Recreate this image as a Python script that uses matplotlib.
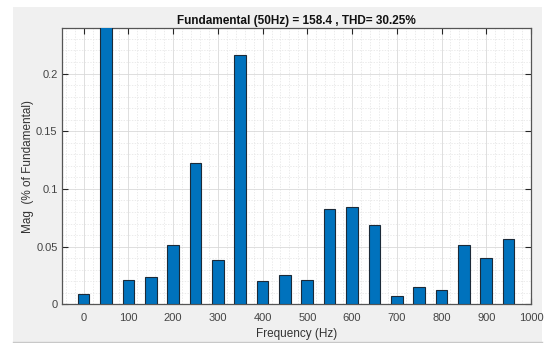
import matplotlib
matplotlib.use("Agg")
import matplotlib.pyplot as plt
from matplotlib.patches import Rectangle
from matplotlib.ticker import MultipleLocator

# Harmonic spectrum (magnitude relative to the 50 Hz fundamental)
freqs = [0, 50, 100, 150, 200, 250, 300, 350, 400, 450,
         500, 550, 600, 650, 700, 750, 800, 850, 900, 950]
mags = [0.0093, 1.0, 0.0214, 0.0237, 0.0512, 0.1224, 0.0382, 0.2157, 0.0199, 0.0254,
        0.0208, 0.0828, 0.0846, 0.0683, 0.0069, 0.0150, 0.0121, 0.0512, 0.0399, 0.0566]
x_ticks = [0, 100, 200, 300, 400, 500, 600, 700, 800, 900, 1000]
y_ticks = [0, 0.05, 0.1, 0.15, 0.2]
y_tick_labels = ["0", "0.05", "0.1", "0.15", "0.2"]
title = "Fundamental (50Hz) = 158.4 , THD= 30.25%"

plt.rcParams['font.family'] = ['Liberation Sans', 'DejaVu Sans']

W, H = 546, 343
fig = plt.figure(figsize=(W / 100, H / 100), dpi=100)
fig.patch.set_facecolor('white')

# grey figure panel
fig.patches.append(Rectangle((13 / W, 0), (542 - 13) / W, 1 - 7 / H,
                             transform=fig.transFigure, facecolor='#f0f0f0',
                             edgecolor='none', zorder=-10))
fig.lines.append(plt.Line2D([13 / W, 542 / W], [1.5 / H, 1.5 / H],
                            transform=fig.transFigure, color='#c8c8c8', lw=1))

ax = fig.add_axes([61.7 / W, 1 - 304.3 / H, (531 - 61.7) / W, (304.3 - 28.3) / H])
ax.set_facecolor('white')

ax.bar(freqs, mags, width=26, color='#0072BD', edgecolor='#1c2a38', linewidth=0.8, zorder=3)

ax.set_xlim(-49, 1000)
ax.set_ylim(0, 0.2392)
ax.set_xticks(x_ticks)
ax.set_xticklabels([str(t) for t in x_ticks])
ax.set_yticks(y_ticks)
ax.set_yticklabels(y_tick_labels)
ax.xaxis.set_minor_locator(MultipleLocator(20))
ax.yaxis.set_minor_locator(MultipleLocator(0.01))

ax.grid(which='major', color='#d9d9d9', linewidth=0.6, linestyle='-', zorder=0)
ax.grid(which='minor', color='#e3e3e3', linewidth=0.5, linestyle=(0, (2, 2)), zorder=0)
ax.set_axisbelow(True)

ax.tick_params(which='major', direction='in', length=4, width=0.8, color='#262626',
               top=True, right=True, labelsize=8, labelcolor='#444444', pad=6)
ax.tick_params(which='minor', length=0, top=True, right=True)
ax.tick_params(axis='y', pad=3)
for s in ax.spines.values():
    s.set_color('#555555')
    s.set_linewidth(0.9)

ax.set_xlabel("Frequency (Hz)", fontsize=8.5, color='#333333', labelpad=4)
ax.set_ylabel("Mag  (% of Fundamental)", fontsize=8.5, color='#333333')
ax.yaxis.set_label_coords(-0.058, 0.5)
ax.set_title(title, fontsize=8.5, fontweight='bold', color='#111111', pad=3)

fig.savefig("out.png", dpi=100, facecolor=fig.get_facecolor())
